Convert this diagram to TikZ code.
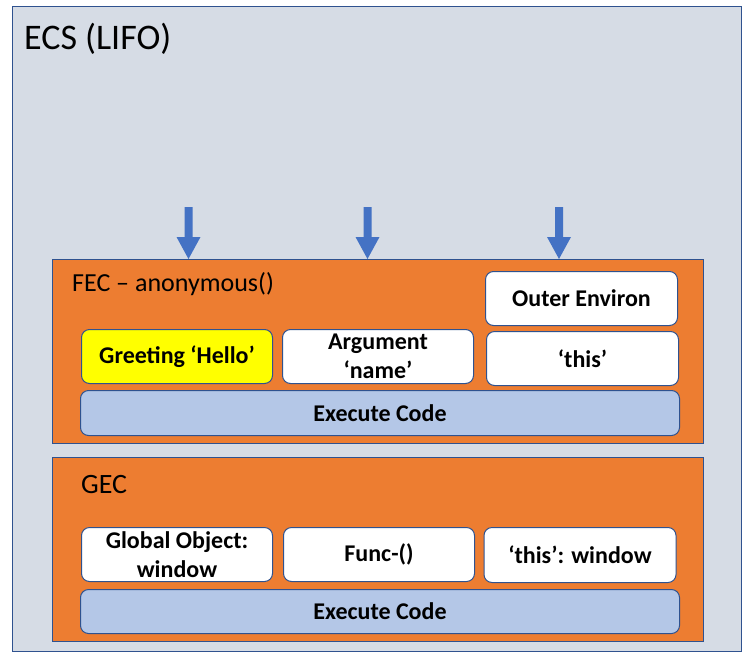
\documentclass[tikz,border=0pt]{standalone}
\usepackage{fontspec}
\setmainfont{Carlito}
\definecolor{ecsfill}{HTML}{D6DCE5}
\definecolor{edge}{HTML}{2F528F}
\definecolor{fecfill}{HTML}{ED7D31}
\definecolor{execfill}{HTML}{B4C7E7}
\definecolor{arrowblue}{HTML}{4472C4}
\definecolor{hlyellow}{HTML}{FFFF00}
\tikzset{
  framebox/.style={draw=edge, line width=1pt},
  itembox/.style={draw=edge, line width=1pt, fill=white, rounded corners=8pt,
    anchor=north west, inner sep=0pt, align=center,
    font=\fontsize{24}{29}\selectfont\bfseries},
  title/.style={anchor=base west, inner sep=0pt},
  downarrow/.style={fill=arrowblue}
}
\begin{document}
\begin{tikzpicture}[x=1pt,y=-1pt]
\useasboundingbox (0,0) rectangle (743,653);
% outer ECS
\draw[framebox, fill=ecsfill] (12.5,6) rectangle (741.5,651.5);
\node[title, font=\fontsize{36}{43}\selectfont] (ecs) at (24,49) {ECS (LIFO)};
% FEC
\draw[framebox, fill=fecfill] (52.5,259.5) rectangle (703,443.5);
\node[title, font=\fontsize{26}{31}\selectfont] (fec) at (72,291) {FEC – anonymous()};
\node[itembox, minimum width=192, minimum height=54] (outer) at (485,271) {Outer Environ};
\node[itembox, fill=hlyellow, minimum width=191, minimum height=54] (greet) at (81,329) {Greeting ‘Hello’};
\node[itembox, minimum width=191, minimum height=54] (arg) at (282,329) {Argument\\‘name’};
\node[itembox, minimum width=192, minimum height=54] (thisf) at (486,331) {‘this’};
\node[itembox, fill=execfill, minimum width=599, minimum height=45] (execf) at (80,390) {Execute Code};
% GEC
\draw[framebox, fill=fecfill] (52.5,457.5) rectangle (703,641.5);
\node[title, font=\fontsize{28}{34}\selectfont] (gec) at (81,493) {GEC};
\node[itembox, minimum width=191, minimum height=54] (glob) at (81,527) {Global Object:\\window};
\node[itembox, minimum width=191, minimum height=54] (func) at (283,527) {Func-()};
\node[itembox, minimum width=192, minimum height=55] (thisg) at (483.5,527) {‘this’: window};
\node[itembox, fill=execfill, minimum width=599, minimum height=44] (execg) at (80,589) {Execute Code};
% arrows
\foreach \n/\x in {a/188.5, b/367.5, c/559} {
  \coordinate (\n) at (\x,259);
  \fill[downarrow] (\n) ++(0,0) -- ++(-12,-22) -- ++(8,0) -- ++(0,-30) -- ++(8,0) -- ++(0,30) -- ++(8,0) -- cycle;
}
\end{tikzpicture}
\end{document}
